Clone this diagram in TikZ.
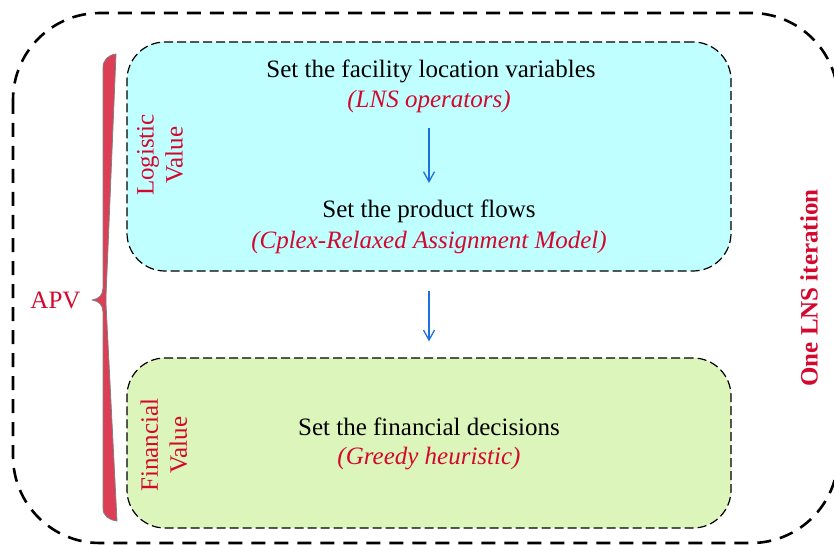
\documentclass[tikz,border=0pt]{standalone}
\usepackage{fontspec}
\setmainfont{Liberation Serif}
\usetikzlibrary{arrows.meta}
\definecolor{apvred}{RGB}{212,8,46}
\definecolor{bracered}{RGB}{220,62,86}
\definecolor{logcyan}{RGB}{191,255,255}
\definecolor{fingreen}{RGB}{220,245,187}
\definecolor{flowblue}{RGB}{30,112,222}
\newcommand{\bodysize}{\fontsize{25}{29}\selectfont}
\tikzset{
  stagebox/.style={draw=black, line width=1.2pt, dash pattern=on 9pt off 4pt, rounded corners=38pt, minimum width=604pt},
  note/.style={text=apvred, font=\bodysize\itshape},
  valuelabel/.style={rotate=90, align=center, text=apvred},
  flow/.style={-{Straight Barb[length=10pt,width=11pt]}, flowblue, line width=1.3pt},
}
\begin{document}
\begin{tikzpicture}[x=1pt,y=-1pt,font=\bodysize, line join=round]
				\useasboundingbox (0,0) rectangle (834,545);
				% outer LNS iteration frame
				\draw[line width=2.6pt, dash pattern=on 14pt off 9pt, rounded corners=87pt] (13,13) rectangle (838,543);
				\node[stagebox, fill=logcyan, minimum height=229pt] (logbox) at (429,156.5) {};
				\node[stagebox, fill=fingreen, minimum height=170pt] (finbox) at (429,443) {};
				\node (facility) at (431,71) {Set the facility location variables};
				\node[note] (lnsop) at (429,101) {(LNS operators)};
				\node (product) at (429,211) {Set the product flows};
				\node[note] (cplex) at (429,242) {(Cplex-Relaxed Assignment Model)};
				\node (financial) at (429,427) {Set the financial decisions};
				\node[note] (greedy) at (429,459) {(Greedy heuristic)};
				\draw[flow, shorten <=12pt, shorten >=13pt] (lnsop.south) -- (product.north);
				\draw[flow, shorten <=19pt, shorten >=16pt] (logbox.south) -- (finbox.north);
				\node[valuelabel] (logv) at (160,155) {Logistic\\Value};
				\node[valuelabel] (finv) at (164,445) {Financial\\Value};
				% brace
				\filldraw[fill=bracered, draw=gray, line width=0.8pt] (103,68) .. controls (103,60) and (108,55) .. (116,54) -- (106,296) -- (106,304) -- (117,521) .. controls (109,520) and (103,516) .. (103,508) -- (103,312) .. controls (103,305) and (99,301) .. (92,300) .. controls (99,299) and (103,295) .. (103,288) -- cycle;
				\node[text=apvred, anchor=east] (apv) at (84,300) {APV};
				\node[rotate=90, text=apvred, font=\bodysize\bfseries] (iter) at (809,288) {One LNS iteration};
\end{tikzpicture}
\end{document}
